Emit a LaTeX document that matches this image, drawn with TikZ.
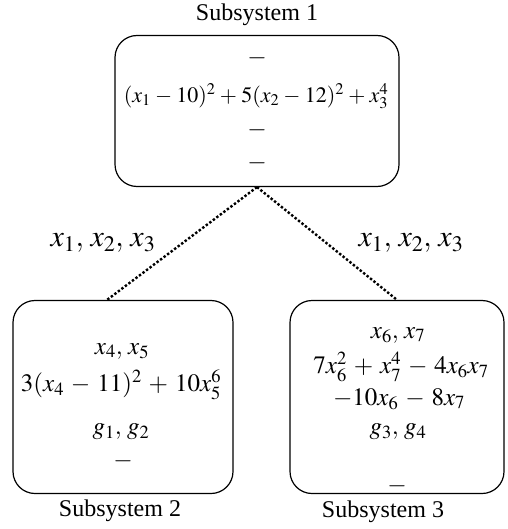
\documentclass[tikz,border=0pt]{standalone}
\usepackage{mathptmx}
\usepackage{fontspec}
\setmainfont{Liberation Serif}
\newcommand\wsp{\medmuskip=5mu\relax\thickmuskip=5mu\relax}
\newcommand\tsp{\medmuskip=3.5mu\relax\thickmuskip=5mu\relax}
\begin{document}
\begin{tikzpicture}[x=1pt,y=-1pt,
  box/.style={draw, line width=1.2pt, rounded corners=22pt, inner sep=0pt},
  txt/.style={inner sep=0pt, font=\fontsize{24}{28}\selectfont},
  mtxt/.style={inner sep=0pt, font=\fontsize{25}{28}\selectfont},
  ttxt/.style={inner sep=0pt, font=\fontsize{22}{28}\selectfont},
  etxt/.style={inner sep=0pt, font=\fontsize{30}{34}\selectfont},
  link/.style={line width=2.4pt, dotted}]
\useasboundingbox (0,0) rectangle (507,529);
\node[box, minimum width=284pt, minimum height=151pt] (s1) at (257,111) {};
\node[box, minimum width=220pt, minimum height=193pt] (s2) at (123,397) {};
\node[box, minimum width=214pt, minimum height=193pt] (s3) at (397,397) {};
\node[txt] (l1) at (257,15) {Subsystem 1};
\node[txt] (l2) at (120,511) {Subsystem 2};
\node[txt] (l3) at (383,512) {Subsystem 3};
% top box
\node[mtxt] (a1) at (257,58) {$-$};
\node[ttxt] (a2) at (256,96) {$\tsp(x_1-10)^2+5(x_2-12)^2+x_3^4$};
\node[mtxt] (a3) at (257,130) {$-$};
\node[mtxt] (a4) at (257,163) {$-$};
% left box
\node[mtxt] (b1) at (122,351) {$x_4,\,x_5$};
\node[mtxt] (b2) at (121,385) {$\wsp 3(x_4-11)^2+10x_5^6$};
\node[mtxt] (b3) at (121,432) {$g_1,\,g_2$};
\node[mtxt] (b4) at (123,461) {$-$};
% right box
\node[mtxt] (c1) at (398,335) {$x_6,\,x_7$};
\node[mtxt] (c2) at (401,367) {$\wsp 7x_6^2+x_7^4-4x_6x_7$};
\node[mtxt] (c3) at (399,399) {$\wsp -10x_6-8x_7$};
\node[mtxt] (c4) at (398,432) {$g_3,\,g_4$};
\node[mtxt] (c5) at (397,486) {$-$};
% links
\draw[link] (s1.south) -- ([xshift=-16pt]s2.north);
\draw[link] (s1.south) -- (s3.north);
\node[etxt] (e1) at (103,243) {$x_1,\,x_2,\,x_3$};
\node[etxt] (e2) at (411,243) {$x_1,\,x_2,\,x_3$};
\end{tikzpicture}
\end{document}
